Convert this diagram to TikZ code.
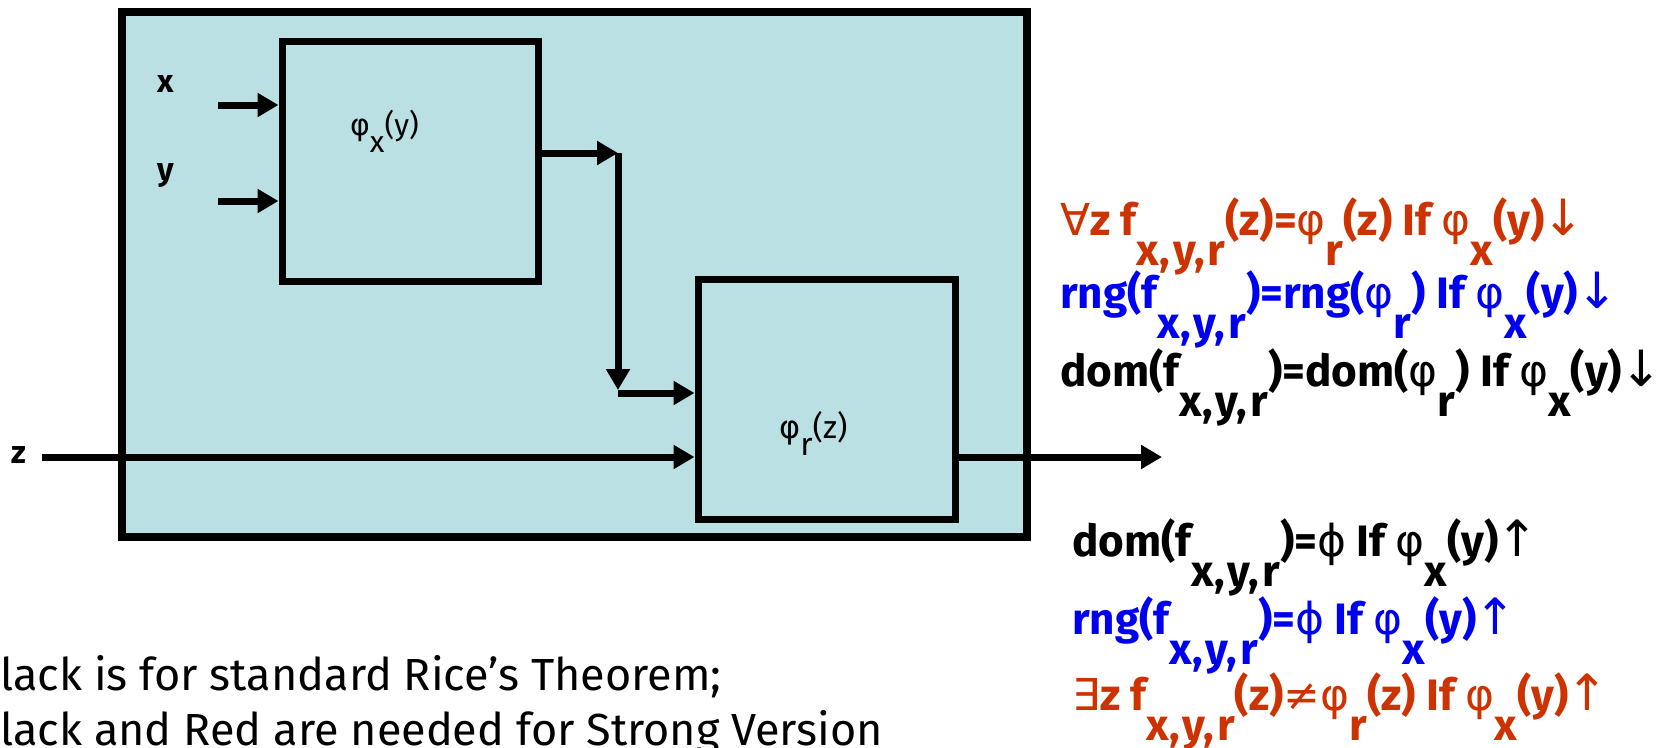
\documentclass[tikz,border=0pt]{standalone}
\usepackage{fontspec}
\setmainfont{Fira Sans}
\newfontfamily\symf{DejaVu Sans}
\usetikzlibrary{arrows.meta}
\definecolor{boxfill}{RGB}{187,224,227}
\definecolor{rred}{RGB}{204,51,0}
\definecolor{bblue}{RGB}{0,0,240}
\newcommand{\lowr}[1]{\raisebox{-30pt}{#1}}
\newcommand{\lows}[1]{\raisebox{-17pt}{#1}}
\newcommand{\sy}[1]{{\symf\mdseries #1}}
\newcommand{\xyr}{\lowr{x,\kern3pt y,\kern3pt r}}
\newcommand{\dn}{\kern-2pt{\symf\mdseries\fontsize{50}{50}\selectfont ↓}}
\newcommand{\up}{\kern-2pt{\symf\mdseries\fontsize{50}{50}\selectfont ↑}}
\tikzset{
  blk/.style={draw=black, line width=7pt, inner sep=0pt},
  arr/.style={line width=7pt, -{Triangle[length=21pt,width=23pt]}},
  lbl/.style={inner sep=0pt, anchor=base, font=\bfseries\fontsize{32}{32}\selectfont},
  inlbl/.style={inner sep=0pt, anchor=base west, font=\fontsize{30}{30}\selectfont},
  rtxt/.style={inner sep=0pt, anchor=base west, font=\bfseries\fontsize{44}{44}\selectfont},
  btxt/.style={inner sep=0pt, anchor=base west, font=\fontsize{45}{45}\selectfont},
}
\begin{document}
\begin{tikzpicture}[x=1pt,y=-1pt]
\useasboundingbox (0,0) rectangle (1665,747);
\clip (0,0) rectangle (1665,747);
% outer box
\node[blk, fill=boxfill, line width=8pt, minimum width=905pt, minimum height=525pt] (outer) at (574.5,274.5) {};
% inner boxes
\node[blk, minimum width=256pt, minimum height=240pt] (box1) at (410,161) {};
\node[blk, minimum width=257pt, minimum height=240pt] (box2) at (826.5,399) {};
% inputs
\coordinate (xs) at (218,105);
\coordinate (ys) at (218,201);
\draw[arr] (xs) -- (xs -| box1.west);
\draw[arr] (ys) -- (ys -| box1.west);
% box1 -> box2
\coordinate (c1) at (618,153);
\coordinate (c2) at (618,390);
\coordinate (c3) at (618,393);
\draw[arr] (c1 -| box1.east) -- (c1);
\draw[arr] (c1) -- (c2);
\draw[arr] (c3) -- (c3 -| box2.west);
% z in / out
\coordinate (zs) at (42,457);
\coordinate (zo) at (1162,457);
\draw[arr] (zs) -- (zs -| box2.west);
\draw[arr] (zo -| box2.east) -- (zo);
% labels
\node[lbl] (lx) at (166,92) {x};
\node[lbl] (ly) at (166,180) {y};
\node[lbl] (lz) at (19,463) {z};
\node[inlbl] (phx) at (350,135) {\sy{φ}\lows{x}(y)};
\node[inlbl, font=\fontsize{32}{32}\selectfont] (phr) at (779,438) {\sy{φ}\lows{r}(z)};
% right texts
\node[rtxt, text=rred] (t1) at (1060,235) {\sy{∀}z f\xyr(z)=\sy{φ}\lowr{r}(z) If \sy{φ}\lowr{x}(y)\dn};
\node[rtxt, text=bblue] (t2) at (1060,308) {rng(f\xyr)=rng(\sy{φ}\lowr{r}) If \sy{φ}\lowr{x}(y)\dn};
\node[rtxt, text=black] (t3) at (1060,386) {dom(f\xyr)=dom(\sy{φ}\lowr{r}) If \sy{φ}\lowr{x}(y)\dn};
\node[rtxt, text=black] (t4) at (1072,556) {dom(f\xyr)=\sy{ϕ} If \sy{φ}\lowr{x}(y)\up};
\node[rtxt, text=bblue] (t5) at (1072,634) {rng(f\xyr)=\sy{ϕ} If \sy{φ}\lowr{x}(y)\up};
\node[rtxt, text=rred] (t6) at (1072,710) {\sy{∃}z f\xyr(z)\sy{≠}\sy{φ}\lowr{r}(z) If \sy{φ}\lowr{x}(y)\up};
% bottom text
\node[btxt] (b1) at (0,690) {lack is for standard Rice’s Theorem;};
\node[btxt] (b2) at (0,745) {lack and Red are needed for Strong Version};
\end{tikzpicture}
\end{document}
